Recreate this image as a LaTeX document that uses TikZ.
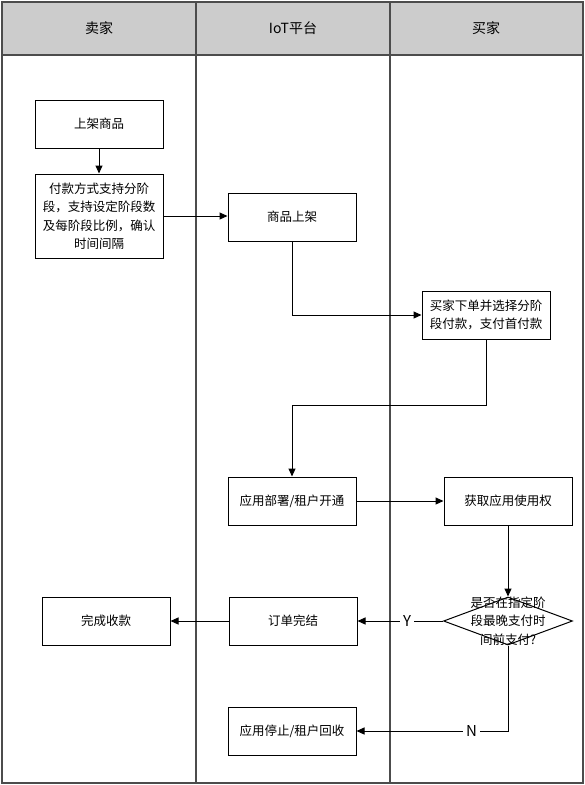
\documentclass[tikz,border=0pt]{standalone}
\usepackage{fontspec}
\setmainfont{Noto Sans CJK SC}
\usetikzlibrary{positioning, shapes.geometric, arrows.meta}

\begin{document}
\begin{tikzpicture}[x=1pt, y=-1pt, line width=1pt,
    >={Triangle[length=8pt, width=7pt]},
    lane/.style={draw=black!70, line width=1.8pt},
    head/.style={font=\fontsize{14}{16}\selectfont},
    box/.style={draw, minimum width=128pt, minimum height=48pt, align=center,
                inner sep=2pt, font=\fontsize{12.5}{18.5}\selectfont},
    decision/.style={draw, diamond, minimum width=129pt, minimum height=48pt, inner sep=0pt},
    tag/.style={fill=white, inner sep=3pt, font=\fontsize{15}{16}\selectfont}]
  \useasboundingbox (0,0) rectangle (585,785);
  % swimlanes
  \fill[black!20] (2,2) rectangle (583,55);
  \draw[lane] (2,2) rectangle (583,783);
  \draw[lane] (2,55) -- (583,55);
  \draw[lane] (196,2) -- (196,783);
  \draw[lane] (390,2) -- (390,783);
  \node[head] (seller) at (99,28) {卖家};
  \node[head] (iot) at (293,28) {IoT平台};
  \node[head] (buyer) at (486,28) {买家};
  % steps
  \node[box] (shelf) at (99,124) {上架商品};
  \node[box, minimum height=84pt] (terms) at (99,216) {付款方式支持分阶\\段，支持设定阶段数\\及每阶段比例，确认\\时间间隔};
  \node[box] (list) at (292,217) {商品上架};
  \node[box] (order) at (486,315) {买家下单并选择分阶\\段付款，支付首付款};
  \node[box] (deploy) at (292,501) {应用部署/租户开通};
  \node[box] (grant) at (508,501) {获取应用使用权};
  \node[decision, label={[align=center, font=\fontsize{12.5}{18.5}\selectfont]center:是否在指定阶\\段最晚支付时\\间前支付?}] (check) at (508,621) {};
  \node[box] (done) at (293,621) {订单完结};
  \node[box] (paid) at (106,621) {完成收款};
  \node[box] (stop) at (292,731) {应用停止/租户回收};
  % flow
  \draw[->] (shelf) -- (terms);
  \draw[->] (terms.east) -- (terms.east -| list.west);
  \draw[->] (list.south) |- (order.west);
  \draw[->] (order.south) -- ++(0,66) -| (deploy.north);
  \draw[->] (deploy) -- (grant);
  \draw[->] (grant) -- (check.north);
  \draw[->] (check.west) -- node[tag, pos=0.42] {Y} (done.east);
  \draw[->] (check.south) |- node[tag, pos=0.62] {N} (stop.east);
  \draw[->] (done) -- (paid);
\end{tikzpicture}
\end{document}
